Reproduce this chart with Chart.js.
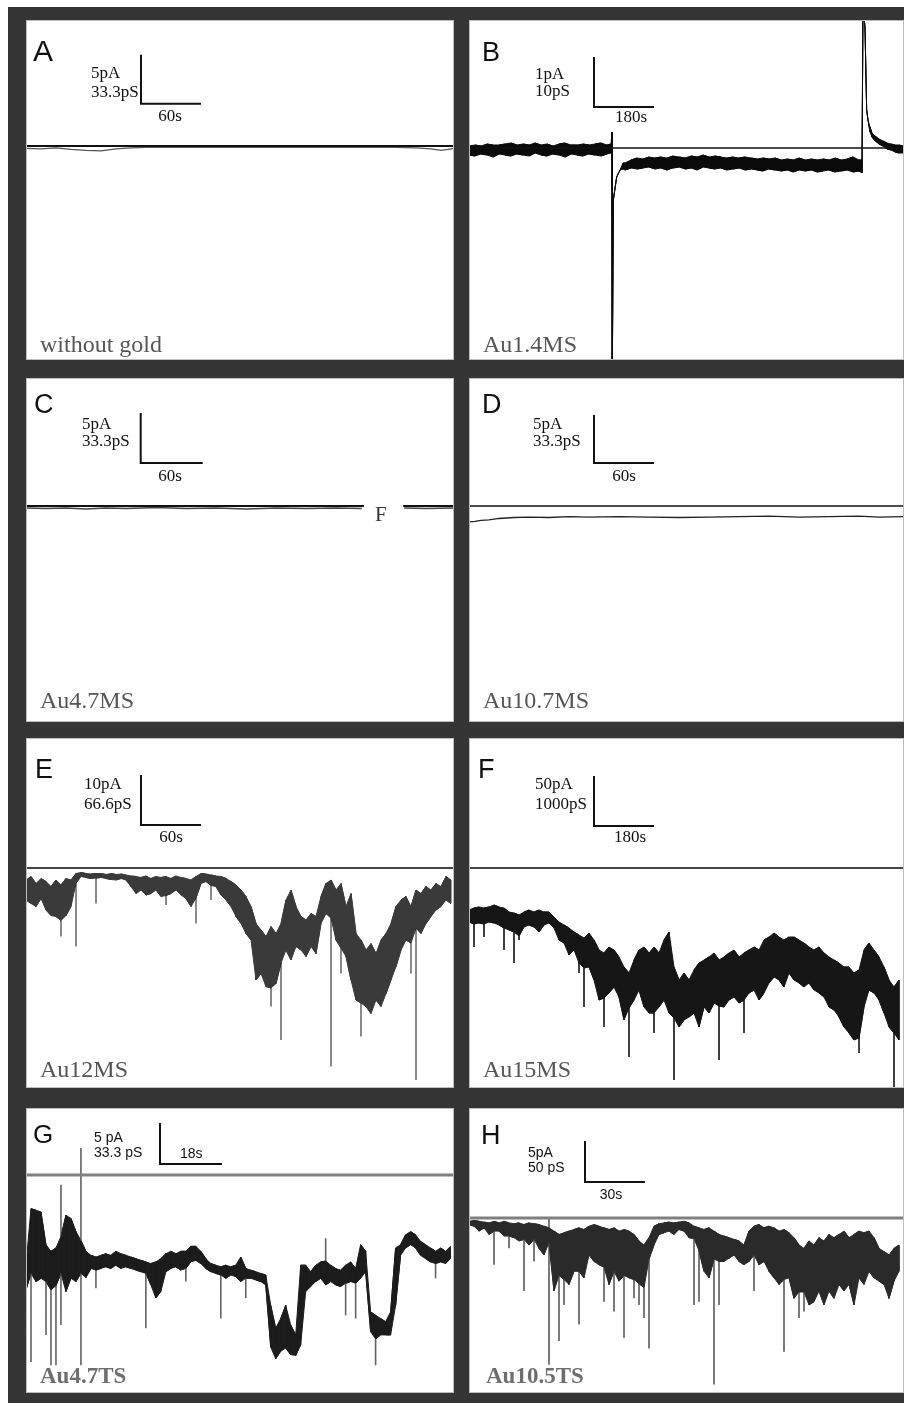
<!DOCTYPE html>
<html>
<head>
<meta charset="utf-8">
<script src="https://cdn.jsdelivr.net/npm/chart.js@4.4.1/dist/chart.umd.min.js"></script>
<style>
  html, body { margin: 0; padding: 0; background: #fff; }
  #frame { position: absolute; left: 8px; top: 7px; width: 896px; height: 1396px; background: #353535; }
  canvas { position: absolute; background: #fff; outline: 1px solid #bdbdbd; outline-offset: -1px; }
</style>
</head>
<body>
<div id="frame"></div>
<canvas id="cA" width="428" height="340" style="left:26px;top:20px"></canvas>
<canvas id="cB" width="435" height="340" style="left:469px;top:20px"></canvas>
<canvas id="cC" width="428" height="344" style="left:26px;top:378px"></canvas>
<canvas id="cD" width="435" height="344" style="left:469px;top:378px"></canvas>
<canvas id="cE" width="428" height="350" style="left:26px;top:738px"></canvas>
<canvas id="cF" width="435" height="350" style="left:469px;top:738px"></canvas>
<canvas id="cG" width="428" height="285" style="left:26px;top:1108px"></canvas>
<canvas id="cH" width="435" height="285" style="left:469px;top:1108px"></canvas>
<script>
// ---- recorded currents (time in s, current in pA, 0 = reference line) ----

// A: without gold
const aTime = [0, 15, 30, 45, 60, 75, 90, 105, 120, 150, 180, 210, 240, 270, 300, 330, 360, 390, 405, 415, 422, 428];
const aCurrent = [-0.25, -0.3, -0.2, -0.35, -0.45, -0.5, -0.3, -0.2, -0.15, -0.15, -0.1, -0.15, -0.1, -0.15, -0.12, -0.15, -0.12, -0.2, -0.3, -0.45, -0.35, -0.25];

// B: Au1.4MS (min / max of the noisy trace at each time)
const bTime = [0, 18, 36, 54, 72, 90, 108, 126, 144, 162, 180, 198, 216, 234, 252, 270, 288, 306, 324, 342, 360, 378, 396, 414, 426,
  429, 430, 433, 443, 453, 462,
  468, 486, 504, 522, 540, 558, 576, 594, 612, 630, 648, 666, 684, 702, 720, 738, 756, 774, 792, 810, 828, 846, 864, 882, 900,
  918, 936, 954, 972, 990, 1008, 1026, 1044, 1062, 1080, 1098, 1116, 1134, 1152, 1170, 1179,
  1182, 1188, 1193, 1197, 1203, 1209, 1218, 1230, 1242, 1254, 1266, 1278, 1290, 1302];
const bHigh = [0.04, 0.06, 0.04, 0.08, 0.06, 0.06, 0.08, 0.1, 0.06, 0.08, 0.06, 0.1, 0.06, 0.08, 0.04, 0.08, 0.1, 0.06, 0.06, 0.08, 0.06, 0.08, 0.1, 0.06, 0.08,
  0.32, -4.5, -1.04, -0.58, -0.44, -0.3,
  -0.3, -0.24, -0.2, -0.22, -0.18, -0.2, -0.18, -0.2, -0.16, -0.18, -0.2, -0.16, -0.18, -0.14, -0.18, -0.16, -0.18, -0.2, -0.18, -0.2,
  -0.18, -0.2, -0.22, -0.2, -0.22, -0.2, -0.24, -0.22, -0.24, -0.2, -0.24, -0.22, -0.24, -0.22, -0.24, -0.2, -0.24, -0.22, -0.18, -0.24, -0.24,
  2.9, 2.4, 0.76, 0.56, 0.42, 0.3, 0.24, 0.18, 0.14, 0.1, 0.08, 0.06, 0.06, 0.04];
const bLow = [-0.14, -0.16, -0.12, -0.14, -0.18, -0.12, -0.14, -0.16, -0.12, -0.14, -0.16, -0.1, -0.14, -0.16, -0.12, -0.14, -0.18, -0.12, -0.14, -0.16, -0.12, -0.14, -0.16, -0.12, -0.1,
  0.32, -4.5, -1.04, -0.58, -0.44, -0.42,
  -0.44, -0.4, -0.42, -0.4, -0.38, -0.42, -0.4, -0.44, -0.4, -0.38, -0.42, -0.4, -0.44, -0.38, -0.4, -0.42, -0.4, -0.44, -0.42, -0.4,
  -0.44, -0.42, -0.44, -0.46, -0.42, -0.44, -0.46, -0.44, -0.48, -0.44, -0.46, -0.44, -0.48, -0.46, -0.44, -0.48, -0.46, -0.44, -0.48, -0.46, -0.5,
  2.9, 2.4, 0.76, 0.56, 0.32, 0.22, 0.14, 0.08, 0.04, -0.02, -0.04, -0.08, -0.1, -0.1];

// C: Au4.7MS (gap where the "F" mark sits)
const cTime = [0, 19, 39, 58, 77, 97, 126, 155, 184, 213, 242, 271, 300, 325, 345, 366, 387, 415];
const cCurrent = [-0.2, -0.25, -0.2, -0.3, -0.2, -0.25, -0.15, -0.25, -0.2, -0.3, -0.2, -0.25, -0.2, -0.25, null, -0.2, -0.25, -0.2];

// D: Au10.7MS
const dTime = [0, 6, 12, 20, 30, 45, 60, 80, 100, 120, 150, 180, 210, 240, 270, 300, 330, 360, 390, 410, 435];
const dCurrent = [-1.65, -1.6, -1.5, -1.45, -1.3, -1.2, -1.15, -1.2, -1.1, -1.15, -1.1, -1.15, -1.2, -1.15, -1.1, -1.05, -1.15, -1.1, -1.05, -1.15, -1.1];

// E: Au12MS, band top / bottom every 5 s, plus isolated spikes [sample, tip]
const eStep = 5;
const eHigh = [-2.4, -1.7, -3.1, -2.1, -2.7, -3.7, -2.4, -3.4, -2.1, -2.4,
  -1.1, -0.9, -1.1, -1.2, -1.1, -1.1, -1.3, -1.1, -1.3, -1.2,
  -1.4, -1.6, -1.7, -1.9, -1.6, -2.1, -1.7, -1.9, -1.7, -2.1,
  -1.6, -1.9, -2.1, -2.4, -1.7, -1.1, -1.2, -1.4, -1.6, -1.7,
  -2.1, -2.7, -3.4, -4.4, -5.7, -7.7, -11.1, -12.4, -13.7, -11.7,
  -13.1, -11.1, -6.4, -4.4, -7.7, -9.7, -10.4, -9.1, -9.7, -5.7,
  -3.1, -2.4, -4.4, -3.1, -7.7, -5.1, -13.1, -14.4, -16.4, -15.1,
  -17.1, -14.4, -13.1, -11.1, -7.7, -6.4, -5.7, -7.7, -4.4, -5.1,
  -3.7, -4.4, -3.1, -3.7, -1.7, -2.4];
const eLow = [-6.4, -7.1, -7.7, -6.1, -8.4, -9.5, -9.7, -10.5, -9.5, -7.7,
  -3.0, -1.7, -1.9, -2.1, -2.0, -1.9, -2.1, -2.3, -2.4, -2.1,
  -2.4, -3.7, -5.1, -4.4, -5.4, -5.1, -4.4, -5.7, -5.5, -5.1,
  -4.4, -5.4, -6.1, -7.7, -6.0, -3.1, -2.7, -3.5, -3.7, -5.4,
  -6.4, -7.7, -9.7, -11.1, -13.1, -14.4, -22.4, -21.1, -23.7, -24.0,
  -23.1, -19.0, -16.4, -18.4, -15.7, -16.4, -17.7, -15.7, -17.1, -11.1,
  -9.1, -10.0, -14.4, -16.0, -17.7, -22.4, -26.4, -27.0, -27.7, -29.1,
  -26.4, -27.7, -25.1, -22.4, -19.7, -16.4, -14.4, -15.0, -12.0, -13.1,
  -11.1, -9.7, -8.4, -7.7, -6.4, -7.1];
const eSpikes = [[7, -13.7], [10, -15.7], [14, -7.1], [28, -7.4], [34, -11.1], [37, -6.4], [49, -27.7], [51, -34.4],
  [61, -39.7], [63, -21.1], [67, -33.7], [77, -21.1], [78, -42.4]];

// F: Au15MS, band top / bottom every 15 s, plus spikes
const fStep = 15;
const fHigh = [-42, -40, -39, -40, -39, -37, -39, -40, -44, -45,
  -47, -44, -42, -44, -42, -44, -44, -49, -54, -57,
  -60, -64, -67, -70, -65, -72, -82, -85, -79, -82,
  -89, -99, -105, -92, -82, -79, -85, -79, -85, -72,
  -64, -99, -112, -105, -112, -102, -95, -92, -89, -85,
  -92, -89, -85, -82, -89, -85, -82, -79, -82, -72,
  -69, -65, -69, -72, -69, -69, -72, -75, -79, -82,
  -79, -85, -89, -92, -95, -99, -99, -105, -102, -82,
  -75, -82, -89, -99, -112, -119, -112];
const fLow = [-54, -56, -55, -56, -54, -55, -57, -60, -62, -64,
  -68, -59, -57, -59, -64, -57, -55, -60, -72, -75,
  -87, -82, -95, -100, -99, -112, -132, -130, -125, -119,
  -129, -152, -140, -132, -122, -139, -145, -145, -139, -132,
  -145, -150, -159, -152, -149, -145, -159, -139, -145, -135,
  -138, -139, -132, -129, -135, -132, -125, -122, -132, -125,
  -115, -109, -112, -119, -105, -112, -115, -119, -115, -122,
  -125, -129, -139, -142, -149, -159, -165, -172, -170, -139,
  -122, -125, -132, -145, -159, -165, -172];
const fSpikes = [[1, -79], [3, -69], [7, -82], [9, -95], [10, -72], [22, -105], [23, -139], [27, -159], [32, -189],
  [37, -165], [41, -212], [50, -192], [55, -165], [78, -185], [85, -225]];

// G: Au4.7TS, band top / bottom every 1.45 s, plus spikes
const gStep = 1.45;
const gHigh = [-11.0, -4.1, -4.3, -4.5, -8.5, -9.3, -8.9, -7.5, -4.9, -5.3,
  -6.9, -8.0, -9.3, -9.8, -10.0, -9.8, -9.6, -9.8, -9.3, -9.6,
  -9.8, -10.0, -10.2, -10.4, -10.6, -10.8, -10.6, -10.2, -9.6, -9.3,
  -9.6, -9.3, -9.3, -8.7, -8.7, -9.3, -10.2, -10.8, -11.0, -11.2,
  -11.0, -11.2, -11.0, -10.0, -11.4, -11.6, -11.8, -12.0, -12.2, -15.9,
  -18.7, -17.5, -15.9, -18.3, -19.5, -11.0, -11.0, -11.8, -11.0, -10.6,
  -10.5, -11.0, -11.4, -11.6, -11.0, -10.6, -11.4, -8.5, -9.3, -16.7,
  -17.1, -17.5, -17.9, -16.7, -8.9, -8.5, -7.3, -6.9, -7.3, -8.1,
  -8.5, -8.9, -9.3, -8.9, -9.3, -8.7];
const gLow = [-14.0, -12.0, -13.0, -12.6, -13.0, -14.0, -13.5, -12.0, -14.2, -12.6,
  -13.0, -12.0, -12.5, -11.4, -11.6, -11.4, -11.2, -11.4, -11.0, -11.4,
  -11.2, -11.4, -11.6, -11.8, -12.0, -13.4, -15.0, -14.2, -11.8, -11.4,
  -11.2, -11.6, -11.4, -10.6, -10.4, -10.8, -11.4, -11.8, -12.0, -12.2,
  -12.6, -12.2, -12.4, -13.0, -12.6, -12.6, -12.8, -13.0, -13.4, -21.0,
  -22.4, -21.5, -21.1, -21.9, -22.0, -20.7, -14.2, -13.6, -13.0, -12.6,
  -13.4, -13.0, -13.4, -13.6, -13.2, -13.0, -13.2, -12.6, -11.8, -19.1,
  -20.0, -19.5, -19.5, -19.5, -15.9, -9.8, -8.9, -8.5, -8.9, -9.8,
  -10.2, -10.6, -10.8, -10.6, -10.8, -10.2];
const gSpikes = [[0, -22.8], [1, -22.8], [4, -19.5], [5, -23.2], [6, -23.2], [7, -18.3], [7, -1.2], [11, 3.3], [11, -23.2],
  [14, -13.8], [24, -18.7], [32, -13.0], [39, -17.5], [44, -15.0], [60, -7.7], [64, -17.1], [66, -17.5], [70, -23.2], [82, -12.6]];

// H: Au10.5TS, band top / bottom every 2.5 s, plus spikes
const hStep = 2.5;
const hHigh = [-0.4, -0.3, -0.4, -0.5, -0.6, -0.4, -0.6, -0.4, -0.6, -0.7,
  -0.6, -0.8, -0.6, -0.7, -0.8, -1.0, -1.2, -1.6, -2.0, -1.8,
  -1.6, -1.4, -1.2, -1.4, -1.0, -0.8, -1.0, -1.2, -1.4, -1.2,
  -1.6, -1.4, -1.6, -2.0, -2.8, -3.3, -2.4, -1.0, -0.7, -0.6,
  -0.5, -0.6, -0.5, -0.4, -0.6, -1.0, -1.2, -1.4, -1.2, -1.6,
  -2.0, -2.2, -2.4, -2.6, -2.8, -3.3, -1.6, -1.0, -0.8, -1.2,
  -1.0, -1.2, -1.6, -1.4, -1.8, -2.4, -3.3, -3.7, -2.8, -3.3,
  -2.4, -2.8, -2.0, -2.4, -2.0, -1.6, -2.4, -2.0, -1.6, -1.8,
  -1.6, -2.4, -3.7, -4.1, -4.5, -3.7, -3.3];
const hLow = [-0.8, -1.0, -1.6, -1.2, -2.0, -1.6, -1.6, -2.2, -2.2, -2.4,
  -2.8, -2.6, -3.3, -2.6, -3.7, -4.5, -3.0, -8.9, -7.0, -7.5,
  -8.1, -6.5, -6.5, -7.3, -4.5, -5.3, -5.7, -6.0, -8.1, -6.5,
  -7.7, -7.0, -7.3, -7.5, -8.0, -8.5, -5.0, -3.3, -2.0, -1.8,
  -1.6, -2.0, -1.4, -1.6, -2.4, -2.5, -4.0, -6.5, -7.3, -5.0,
  -5.3, -5.3, -4.9, -4.5, -5.3, -5.7, -5.3, -4.5, -5.7, -5.3,
  -6.5, -7.3, -8.1, -7.5, -7.3, -9.8, -9.0, -9.0, -10.6, -10.2,
  -8.9, -10.6, -8.9, -9.8, -8.1, -8.9, -8.1, -10.6, -7.3, -8.1,
  -6.5, -7.3, -7.7, -8.1, -9.8, -7.7, -6.5];
const hSpikes = [[5, -5.7], [8, -3.7], [11, -8.9], [13, -5.3], [16, 0.0], [16, -17.9], [18, -15.0], [19, -10.6], [22, -13.0],
  [27, -10.2], [29, -11.4], [31, -14.6], [33, -9.8], [34, -10.6], [35, -12.2], [36, -15.9], [45, -10.6], [46, -10.2],
  [49, -20.3], [50, -10.6], [57, -8.9], [63, -16.3], [66, -12.2], [67, -11.4]];

// scale bars as printed (A..H)
const barCurrent = [5, 1, 5, 5, 10, 50, 5, 5];
const barTime = [60, 180, 60, 60, 60, 180, 18, 30];
const barCurrentText = ['5pA', '1pA', '5pA', '5pA', '10pA', '50pA', '5 pA', '5pA'];
const barConductText = ['33.3pS', '10pS', '33.3pS', '33.3pS', '66.6pS', '1000pS', '33.3 pS', '50 pS'];
const barTimeText = ['60s', '180s', '60s', '60s', '60s', '180s', '18s', '30s'];
const sampleNames = ['without gold', 'Au1.4MS', 'Au4.7MS', 'Au10.7MS', 'Au12MS', 'Au15MS', 'Au4.7TS', 'Au10.5TS'];

// ---- drawing ----
const SERIF = '"Liberation Serif", "Times New Roman", serif';
const SANS = '"Liberation Sans", Arial, sans-serif';

function points(times, values) {
  return times.map((t, i) => ({ x: t, y: values[i] }));
}

function uniformTimes(values, step) {
  return values.map((_, i) => i * step);
}

// min/max decimated trace: vertical stroke at each sample, alternating direction
function minMaxStroke(times, hi, lo) {
  const pts = [];
  let down = true;
  times.forEach((t, i) => {
    if (lo[i] === hi[i]) { pts.push({ x: t, y: hi[i] }); return; }
    const a = down ? hi[i] : lo[i];
    const b = down ? lo[i] : hi[i];
    pts.push({ x: t, y: a }, { x: t, y: b });
    down = !down;
  });
  return pts;
}

// isolated openings drawn as single vertical strokes from the band edge
function spikeStrokes(times, hi, lo, spikes) {
  const pts = [];
  spikes.forEach(([i, tip]) => {
    const from = tip < lo[i] ? lo[i] : hi[i];
    pts.push({ x: times[i], y: from }, { x: times[i], y: tip }, { x: times[i], y: null });
  });
  return pts;
}

function textPlugin(items) {
  return {
    id: 'panelText',
    afterDatasetsDraw(chart) {
      const ctx = chart.ctx;
      ctx.save();
      items.forEach(it => {
        ctx.font = it.font;
        ctx.fillStyle = it.color || '#111';
        ctx.textAlign = it.align || 'left';
        ctx.textBaseline = it.baseline || 'alphabetic';
        ctx.fillText(it.text, it.x, it.y);
      });
      ctx.restore();
    }
  };
}

function renderPanel(p, i) {
  const canvas = document.getElementById(p.canvas);
  const w = canvas.width, h = canvas.height;
  const yMax = p.zeroPx * p.unitPerPx;
  const yMin = -(h - p.zeroPx) * p.unitPerPx;
  const xMax = w * p.secPerPx;

  const datasets = [];
  datasets.push({
    data: p.zeroLine || [{ x: 0, y: 0 }, { x: xMax, y: 0 }],
    borderColor: p.zeroColor, borderWidth: p.zeroWidth
  });
  datasets.push({
    data: [
      { x: p.barAt[0], y: p.barAt[1] + barCurrent[i] },
      { x: p.barAt[0], y: p.barAt[1] },
      { x: p.barAt[0] + barTime[i], y: p.barAt[1] }
    ],
    borderColor: '#111', borderWidth: 2, borderJoinStyle: 'miter'
  });

  if (p.line) {
    datasets.push({ data: p.line, borderColor: p.lineColor, borderWidth: p.lineWidth });
  }
  if (p.band) {
    const [times, hi, lo, spikes] = p.band;
    if (spikes) {
      datasets.push({ data: spikeStrokes(times, hi, lo, spikes), borderColor: p.spikeColor, borderWidth: p.spikeWidth });
    }
    datasets.push({ data: minMaxStroke(times, hi, lo), borderColor: p.bandColor, borderWidth: 1 });
    datasets.push({ data: points(times, hi), borderColor: p.bandColor, borderWidth: 1 });
    datasets.push({ data: points(times, lo), borderColor: p.bandColor, borderWidth: 1, fill: '-1', backgroundColor: p.bandColor });
  }

  const cfg = p.barText;
  const items = [
    { text: p.letter, x: p.letterAt[0], y: p.letterAt[1], font: `${p.letterSize}px ${SANS}` },
    { text: barCurrentText[i], x: cfg.x, y: cfg.y1, font: cfg.font, baseline: 'middle' },
    { text: barConductText[i], x: cfg.x, y: cfg.y2, font: cfg.font, baseline: 'middle' },
    { text: barTimeText[i], x: cfg.tx, y: cfg.ty, font: cfg.font, baseline: 'middle', align: cfg.talign || 'center' },
    { text: sampleNames[i], x: p.nameAt[0], y: p.nameAt[1], font: p.nameFont, color: p.nameColor }
  ].concat(p.extraText || []);

  new Chart(canvas, {
    type: 'line',
    data: { datasets },
    options: {
      responsive: false,
      animation: false,
      devicePixelRatio: 1,
      events: [],
      layout: { padding: 0 },
      elements: {
        point: { radius: 0 },
        line: { tension: 0, borderJoinStyle: 'bevel', fill: false }
      },
      plugins: { legend: { display: false }, tooltip: { enabled: false }, title: { display: false } },
      scales: {
        x: { type: 'linear', display: false, min: 0, max: xMax },
        y: { type: 'linear', display: false, min: yMin, max: yMax }
      }
    },
    plugins: [textPlugin(items)]
  });
}

const serifBar = `17px ${SERIF}`;
const sansBar = `14px ${SANS}`;
const nameFont = `24px ${SERIF}`;
const nameFontTS = `bold 23px ${SERIF}`;

const panels = [
  { canvas: 'cA', letter: 'A', letterAt: [7, 41], letterSize: 30,
    secPerPx: 1, unitPerPx: 5 / 49, zeroPx: 126, zeroColor: '#111', zeroWidth: 2,
    barAt: [115, 4.3], barText: { x: 65, y1: 54, y2: 73, tx: 144, ty: 97, font: serifBar },
    nameAt: [14, 332], nameFont, nameColor: '#555',
    line: points(aTime, aCurrent), lineColor: '#555', lineWidth: 1.3 },
  { canvas: 'cB', letter: 'B', letterAt: [13, 41], letterSize: 27,
    secPerPx: 3, unitPerPx: 1 / 50, zeroPx: 128, zeroColor: '#111', zeroWidth: 1.6,
    barAt: [375, 0.82], barText: { x: 66, y1: 55, y2: 72, tx: 162, ty: 98, font: serifBar },
    nameAt: [14, 332], nameFont, nameColor: '#555',
    band: [bTime, bHigh, bLow], bandColor: '#0a0a0a' },
  { canvas: 'cC', letter: 'C', letterAt: [8, 35], letterSize: 27,
    secPerPx: 60 / 62, unitPerPx: 0.1, zeroPx: 128, zeroColor: '#111', zeroWidth: 1.8,
    zeroLine: [{ x: 0, y: 0 }, { x: 327, y: 0 }, { x: 346, y: null }, { x: 365, y: 0 }, { x: 415, y: 0 }],
    barAt: [111, 4.3], barText: { x: 56, y1: 47, y2: 64, tx: 144, ty: 99, font: serifBar },
    nameAt: [14, 330], nameFont, nameColor: '#555',
    line: points(cTime, cCurrent), lineColor: '#444', lineWidth: 1.4,
    extraText: [{ text: 'F', x: 349, y: 143, font: `21px ${SERIF}`, color: '#333' }] },
  { canvas: 'cD', letter: 'D', letterAt: [13, 35], letterSize: 27,
    secPerPx: 1, unitPerPx: 5 / 48, zeroPx: 128, zeroColor: '#111', zeroWidth: 1.6,
    barAt: [125, 4.47], barText: { x: 64, y1: 47, y2: 64, tx: 155, ty: 99, font: serifBar },
    nameAt: [14, 330], nameFont, nameColor: '#555',
    line: points(dTime, dCurrent), lineColor: '#222', lineWidth: 1.3 },
  { canvas: 'cE', letter: 'E', letterAt: [9, 40], letterSize: 27,
    secPerPx: 1, unitPerPx: 0.2, zeroPx: 130, zeroColor: '#444', zeroWidth: 2,
    barAt: [115, 8.6], barText: { x: 58, y1: 47, y2: 67, tx: 145, ty: 100, font: serifBar },
    nameAt: [14, 339], nameFont, nameColor: '#555',
    band: [uniformTimes(eHigh, eStep), eHigh, eLow, eSpikes], bandColor: '#3a3a3a',
    spikeColor: 'rgba(30,30,30,0.8)', spikeWidth: 1.3 },
  { canvas: 'cF', letter: 'F', letterAt: [9, 40], letterSize: 27,
    secPerPx: 3, unitPerPx: 1, zeroPx: 130, zeroColor: '#444', zeroWidth: 2,
    barAt: [375, 42], barText: { x: 66, y1: 47, y2: 67, tx: 161, ty: 100, font: serifBar },
    nameAt: [14, 339], nameFont, nameColor: '#555',
    band: [uniformTimes(fHigh, fStep), fHigh, fLow, fSpikes], bandColor: '#161616',
    spikeColor: '#111', spikeWidth: 1.6 },
  { canvas: 'cG', letter: 'G', letterAt: [7, 35], letterSize: 26,
    secPerPx: 18 / 62, unitPerPx: 5 / 41, zeroPx: 67, zeroColor: '#808080', zeroWidth: 3,
    barAt: [38.9, 1.34], barText: { x: 68, y1: 30, y2: 45, tx: 154, ty: 46, talign: 'left', font: sansBar },
    nameAt: [14, 275], nameFont: nameFontTS, nameColor: '#6e6e6e',
    band: [uniformTimes(gHigh, gStep), gHigh, gLow, gSpikes], bandColor: '#1c1c1c',
    spikeColor: 'rgba(70,70,70,0.85)', spikeWidth: 1.6 },
  { canvas: 'cH', letter: 'H', letterAt: [12, 36], letterSize: 27,
    secPerPx: 0.5, unitPerPx: 5 / 41, zeroPx: 110, zeroColor: '#808080', zeroWidth: 3,
    barAt: [58, 4.39], barText: { x: 59, y1: 45, y2: 60, tx: 142, ty: 87, font: sansBar },
    nameAt: [17, 275], nameFont: nameFontTS, nameColor: '#6e6e6e',
    band: [uniformTimes(hHigh, hStep), hHigh, hLow, hSpikes], bandColor: '#2a2a2a',
    spikeColor: 'rgba(60,60,60,0.85)', spikeWidth: 1.6 }
];

panels.forEach(renderPanel);
</script>
</body>
</html>
